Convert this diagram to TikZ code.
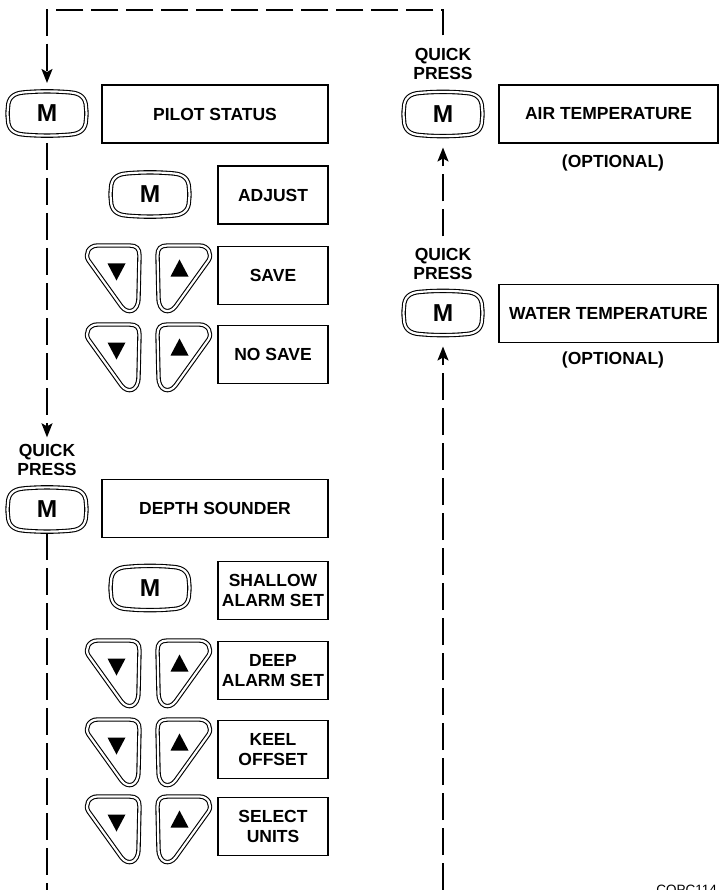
\documentclass[tikz,border=0pt]{standalone}
\usepackage{fontspec}
\setmainfont{Liberation Sans}
\usetikzlibrary{arrows.meta}
\tikzset{
  dbl/.style={draw=black, line width=1.1pt, double=white, double distance=2.2pt, line join=round},
  keylbl/.style={inner sep=0pt, outer sep=0pt, minimum width=82pt, minimum height=47pt, font=\fontsize{24.5}{24.5}\selectfont\bfseries},
  box/.style={draw, line width=1.3pt, minimum height=58pt, inner sep=0pt, outer sep=0pt, align=center, font=\fontsize{17.5}{20}\selectfont\bfseries},
  lbl/.style={inner sep=0pt, outer sep=0pt, align=center, font=\fontsize{17.5}{19}\selectfont\bfseries},
  flow/.style={line width=1.8pt, dash pattern=on 27pt off 8pt},
  tip/.style={-{Stealth[length=14pt,width=11pt,inset=3pt]}},
}
\newcommand\mkey[3]{%
  \node[keylbl] (#1) at (#2,#3) {M};
  \draw[dbl,shift={(#2,#3)}]
    (-24,-21) .. controls (-8,-22.5) and (8,-22.5) .. (24,-21)
    .. controls (33,-20.2) and (39,-16) .. (39,-6)
    .. controls (39.6,-2) and (39.6,2) .. (39,6)
    .. controls (39,16) and (33,20.2) .. (24,21)
    .. controls (8,22.5) and (-8,22.5) .. (-24,21)
    .. controls (-33,20.2) and (-39,16) .. (-39,6)
    .. controls (-39.6,2) and (-39.6,-2) .. (-39,-6)
    .. controls (-39,-16) and (-33,-20.2) .. (-24,-21) -- cycle;}
\newcommand\keyoutline{%
    (-16,-30) -- (16,-30)
    .. controls (23,-30) and (26,-27) .. (26,-20)
    -- (25,22)
    .. controls (25,37) and (14,39) .. (8,31)
    -- (-25,-15)
    .. controls (-29,-21) and (-25,-30) .. (-16,-30) -- cycle}
\newcommand\dnkey[2]{%
  \draw[dbl,shift={(#1,#2)}] \keyoutline;
  \fill[shift={(#1,#2)}] (-6,-12) -- (12,-12) -- (3,5) -- cycle;}
\newcommand\upkey[2]{%
  \draw[dbl,shift={(#1,#2)},xscale=-1] \keyoutline;
  \fill[shift={(#1,#2)}] (-13,1) -- (5,1) -- (-4,-16) -- cycle;}
\begin{document}
\begin{tikzpicture}[x=1pt,y=-1pt]
\useasboundingbox (0,0) rectangle (720,890);
\fill[white] (0,0) rectangle (720,890);

% ---------- left column, upper group
\mkey{mPilot}{47}{113.5}
\node[box, minimum width=226pt] (bPilot) at (215,114) {PILOT STATUS};
\mkey{mAdj}{150}{194.5}
\node[box, minimum width=110pt] (bAdj) at (273,195) {ADJUST};
\dnkey{113.5}{275.5}\upkey{183.5}{275.5}
\node[box, minimum width=110pt] (bSave) at (273,275.5) {SAVE};
\dnkey{113.5}{354.5}\upkey{183.5}{354.5}
\node[box, minimum width=110pt] (bNoSave) at (273,354.5) {NO SAVE};

% ---------- left column, lower group
\node[lbl] (qpDepth) at (47,460) {QUICK\\PRESS};
\mkey{mDepth}{47}{509.5}
\node[box, minimum width=226pt] (bDepth) at (215,508.5) {DEPTH SOUNDER};
\mkey{mShal}{150}{588}
\node[box, minimum width=110pt] (bShal) at (273,590.5) {SHALLOW\\ALARM SET};
\dnkey{113.5}{670.5}\upkey{183.5}{670.5}
\node[box, minimum width=110pt] (bDeep) at (273,670.5) {DEEP\\ALARM SET};
\dnkey{113.5}{749.5}\upkey{183.5}{749.5}
\node[box, minimum width=110pt] (bKeel) at (273,749.5) {KEEL\\OFFSET};
\dnkey{113.5}{826.5}\upkey{183.5}{826.5}
\node[box, minimum width=110pt] (bSel) at (273,826.5) {SELECT\\UNITS};

% ---------- right column
\node[lbl] (qpAir) at (443,64) {QUICK\\PRESS};
\mkey{mAir}{443}{114}
\node[box, minimum width=219pt] (bAir) at (608.5,114) {AIR TEMPERATURE};
\node[lbl] (optAir) at (613,163) {(OPTIONAL)};
\node[lbl] (qpWater) at (443,264) {QUICK\\PRESS};
\mkey{mWater}{443}{313}
\node[box, minimum width=219pt] (bWater) at (608.5,313.5) {WATER TEMPERATURE};
\node[lbl] (optWater) at (613,360) {(OPTIONAL)};

% ---------- connectors
\coordinate (topR) at (443,10);
\coordinate (botL) at (47,890);
\coordinate (botR) at (443,890);
\draw[flow,tip,shorten <=13pt,shorten >=7pt] (qpAir.north) -- (topR) -| (mPilot.north);
\draw[flow,tip,shorten <=6pt,shorten >=7pt] (mPilot.south) -- (qpDepth.north);
\draw[flow] (mDepth.south) -- (botL);
\draw[flow,tip,shorten >=10pt] (botR) -- (mWater.south);
\draw[flow,tip,shorten <=12pt,shorten >=10pt] (qpWater.north) -- (mAir.south);

\node[anchor=base east, inner sep=0pt, font=\fontsize{13.5}{13.5}\selectfont] (code) at (717,894.5) {COPC114};
\end{tikzpicture}
\end{document}
